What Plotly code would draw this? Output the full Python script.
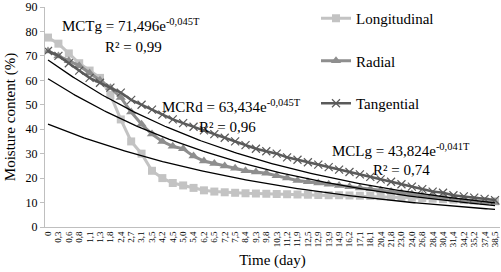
import numpy as np
import plotly.graph_objects as go

time_labels = ["0", "0,3", "0,6", "0,8", "1,1", "1,3", "1,8", "2,4", "2,7", "3,1", "3,5",
               "4,2", "4,5", "5,0", "5,4", "6,2", "6,5", "7,2", "7,5", "8,4", "9,3", "9,8",
               "10,3", "11,2", "11,9", "12,5", "12,9", "13,9", "14,9", "16,2", "17,1", "18,1",
               "20,4", "21,8", "23,0", "24,0", "26,8", "28,4", "30,4", "31,4", "34,2", "35,2",
               "37,4", "38,5"]

longitudinal = [77.5, 75, 71, 67, 64, 61, 54, 44, 35, 30, 23, 20, 18, 17, 16, 15, 14.5, 14.2,
                14, 13.8, 13.7, 13.6, 13.5, 13.4, 13.3, 13.2, 13.1, 13.0, 13.0, 12.9, 12.8,
                12.7, 12.6, 12.4, 12.2, 12.0, 11.8, 11.6, 11.4, 11.2, 11.0, 10.8, 10.6, 10.5]

radial = [72, 70, 68, 66, 63, 60, 57, 53, 47, 42, 38, 35, 33, 32, 29, 27, 26, 25, 24, 23,
          22.5, 22, 21, 20, 19, 18.5, 18, 17.5, 17, 16.5, 16, 15.5, 15, 14.5, 14, 13.5,
          13, 12.5, 12, 11.5, 11, 10.5, 10, 10]

tangential = [72, 70, 67, 64, 61, 59, 57, 55, 52, 50, 48, 46, 44, 42.5, 41, 39.5, 38, 36.5,
              35, 33.5, 32, 31, 30, 28.5, 27.5, 26.5, 25.5, 24.5, 23.5, 22.5, 21.5, 20.5,
              19.5, 18.5, 17.5, 16.5, 15.5, 14.5, 14, 13, 12.5, 12, 11.5, 11]

# Exponential trendline coefficients shown on the chart (y = a * e^(b * n), n = point number)
trend_names = ["MCTg", "MCRd", "MCLg"]
trend_a = [71.496, 63.434, 43.824]
trend_b = [-0.045, -0.045, -0.041]
trend_r2 = ["0,99", "0,96", "0,74"]
trend_a_txt = ["71,496", "63,434", "43,824"]
trend_b_txt = ["-0,045T", "-0,045T", "-0,041T"]

W, H = 501, 272
L, R, T, B = 45, 1, 7, 45
pw, ph = W - L - R, H - T - B

def px(x):
    return (x - L) / pw

def py(y):
    return (H - B - y) / ph

idx = list(range(len(time_labels)))
font = "Liberation Serif, Times New Roman, serif"

fig = go.Figure()
fig.add_trace(go.Scatter(x=idx, y=longitudinal, name="Longitudinal", mode="lines+markers",
                         line=dict(color="#c3c3c3", width=3),
                         marker=dict(symbol="square", size=8, color="#c3c3c3"),
                         legendgroup="a"))
fig.add_trace(go.Scatter(x=idx, y=radial, name="Radial", mode="lines+markers",
                         line=dict(color="#8e8e8e", width=3),
                         marker=dict(symbol="triangle-up", size=9, color="#8e8e8e"),
                         legendgroup="b"))
fig.add_trace(go.Scatter(x=idx, y=tangential, name="Tangential", mode="lines+markers",
                         line=dict(color="#5a5a5a", width=2.5),
                         marker=dict(symbol="x-thin", size=8, color="#5a5a5a",
                                     line=dict(color="#5a5a5a", width=1.2)),
                         legendgroup="c"))

t = np.linspace(0, len(time_labels) - 1, 200)
for a, b in zip(trend_a, trend_b):
    fig.add_trace(go.Scatter(x=t, y=a * np.exp(b * (t + 1)), mode="lines",
                             line=dict(color="#000000", width=1.3), showlegend=False,
                             legendgroup="c", hoverinfo="skip"))

ann_pos = [((131, 25), (133, 47)), ((231, 106), (227, 127)), ((401, 150), (401, 170))]
for name, at, bt, r2, (p1, p2) in zip(trend_names, trend_a_txt, trend_b_txt, trend_r2, ann_pos):
    fig.add_annotation(x=px(p1[0]), y=py(p1[1]), xref="paper", yref="paper", showarrow=False,
                       text=f"{name} = {at}e<sup>{bt}</sup>", xanchor="center", yanchor="middle",
                       font=dict(family=font, size=15, color="#000000"))
    fig.add_annotation(x=px(p2[0]), y=py(p2[1]), xref="paper", yref="paper", showarrow=False,
                       text=f"R² = {r2}", xanchor="center", yanchor="middle",
                       font=dict(family=font, size=15, color="#000000"))

fig.update_layout(
    width=W, height=H,
    margin=dict(l=L, r=R, t=T, b=B),
    paper_bgcolor="white", plot_bgcolor="white",
    font=dict(family=font, color="#000000"),
    legend=dict(x=px(316), y=py(2), xanchor="left", yanchor="top",
                font=dict(family=font, size=15, color="#000000"),
                tracegroupgap=20, bgcolor="rgba(0,0,0,0)"),
    xaxis=dict(range=[-0.29, 43.48], tickmode="array", tickvals=idx, ticktext=time_labels,
               tickangle=-90, tickfont=dict(family=font, size=9, color="#000000"),
               showgrid=False, zeroline=False, showline=True, linecolor="#bfbfbf",
               linewidth=1, ticks="", automargin=False,
               title=dict(text="Time (day)", standoff=8, font=dict(family=font, size=15))),
    yaxis=dict(range=[0, 90], dtick=10, showgrid=False, zeroline=False, showline=True,
               linecolor="#bfbfbf", linewidth=1, ticks="outside", ticklen=4,
               tickcolor="#bfbfbf", tickfont=dict(family=font, size=12, color="#000000"),
               automargin=False, ticklabeloverflow="allow",
               title=dict(text="Moisture content (%)", standoff=6,
                          font=dict(family=font, size=15))),
)

fig.write_html("out.html", post_script="document.body.style.margin='0';",
               config={"displayModeBar": False})
